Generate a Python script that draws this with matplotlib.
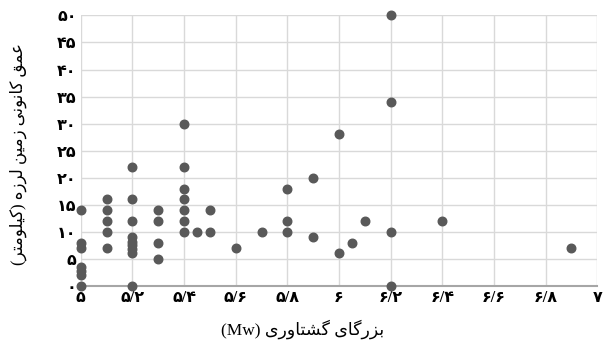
import matplotlib
matplotlib.use("Agg")
import matplotlib.pyplot as plt

# magnitude (Mw) and focal depth (km)
magnitude = [5.0, 5.0, 5.0, 5.0, 5.0, 5.0, 5.0,
             5.1, 5.1, 5.1, 5.1, 5.1,
             5.2, 5.2, 5.2, 5.2, 5.2, 5.2, 5.2, 5.2, 5.2,
             5.3, 5.3, 5.3, 5.3,
             5.4, 5.4, 5.4, 5.4, 5.4, 5.4, 5.4,
             5.45, 5.5, 5.5, 5.6, 5.7,
             5.8, 5.8, 5.8, 5.9, 5.9,
             6.0, 6.0, 6.05, 6.1,
             6.2, 6.2, 6.2, 6.2, 6.4, 6.9]
depth = [14, 8, 7, 3.5, 2.7, 2, 0,
         16, 14, 12, 10, 7,
         22, 16, 12, 9, 8.2, 7.5, 6.8, 6, 0,
         14, 12, 8, 5,
         30, 22, 18, 16, 14, 12, 10,
         10, 14, 10, 7, 10,
         18, 12, 10, 20, 9,
         28, 6, 8, 12,
         50, 34, 10, 0, 12, 7]

x_ticks = [5.0, 5.2, 5.4, 5.6, 5.8, 6.0, 6.2, 6.4, 6.6, 6.8, 7.0]
x_labels = ["۵", "۵/۲", "۵/۴", "۵/۶", "۵/۸", "۶", "۶/۲", "۶/۴", "۶/۶", "۶/۸", "۷"]
y_ticks = [0, 5, 10, 15, 20, 25, 30, 35, 40, 45, 50]
y_labels = ["۰", "۵", "۱۰", "۱۵", "۲۰", "۲۵", "۳۰", "۳۵", "۴۰", "۴۵", "۵۰"]

# arabic letter forms: isolated, final, initial, medial
FORMS = {
    "ا": ("\uFE8D", "\uFE8E", None, None),
    "ب": ("\uFE8F", "\uFE90", "\uFE91", "\uFE92"),
    "ت": ("\uFE95", "\uFE96", "\uFE97", "\uFE98"),
    "ر": ("\uFEAD", "\uFEAE", None, None),
    "ز": ("\uFEAF", "\uFEB0", None, None),
    "ش": ("\uFEB5", "\uFEB6", "\uFEB7", "\uFEB8"),
    "ع": ("\uFEC9", "\uFECA", "\uFECB", "\uFECC"),
    "ق": ("\uFED5", "\uFED6", "\uFED7", "\uFED8"),
    "ل": ("\uFEDD", "\uFEDE", "\uFEDF", "\uFEE0"),
    "م": ("\uFEE1", "\uFEE2", "\uFEE3", "\uFEE4"),
    "ن": ("\uFEE5", "\uFEE6", "\uFEE7", "\uFEE8"),
    "ه": ("\uFEE9", "\uFEEA", "\uFEEB", "\uFEEC"),
    "و": ("\uFEED", "\uFEEE", None, None),
    "ک": ("\uFB8E", "\uFB8F", "\uFB90", "\uFB91"),
    "گ": ("\uFB92", "\uFB93", "\uFB94", "\uFB95"),
    "ی": ("\uFBFC", "\uFBFD", "\uFBFE", "\uFBFF"),
}


def shape(word):
    out = []
    for i, c in enumerate(word):
        f = FORMS.get(c)
        if f is None:
            out.append(c)
            continue
        prev = word[i - 1] if i > 0 else ""
        nxt = word[i + 1] if i + 1 < len(word) else ""
        jp = prev in FORMS and FORMS[prev][2] is not None
        jn = f[2] is not None and nxt in FORMS
        if jp and jn:
            out.append(f[3])
        elif jp:
            out.append(f[1])
        elif jn:
            out.append(f[2])
        else:
            out.append(f[0])
    return "".join(reversed(out))


def rtl(text):
    return " ".join(shape(w) for w in reversed(text.split(" ")))


x_title = "(Mw) " + rtl("بزرگای گشتاوری")
y_title = "(" + shape("کیلومتر") + ") " + rtl("عمق کانونی زمین لرزه")

fonts = ["Liberation Serif", "DejaVu Sans"]

fig = plt.figure(figsize=(6.05, 3.5), dpi=100)
ax = fig.add_axes([0.1334, 0.183, 0.8539, 0.773])

ax.scatter(magnitude, depth, s=38, color="#595959", zorder=3, clip_on=False)

ax.set_xlim(5, 7)
ax.set_ylim(0, 50)
ax.set_xticks(x_ticks)
ax.set_xticklabels(x_labels, family=fonts, fontsize=11.5, fontweight="bold")
ax.set_yticks(y_ticks)
ax.set_yticklabels(y_labels, family=fonts, fontsize=11.5, fontweight="bold")
ax.tick_params(length=0, pad=3, colors="black")

ax.grid(True, color="#d9d9d9", linewidth=1)
ax.set_axisbelow(True)
for side in ["left", "top", "right"]:
    ax.spines[side].set_visible(False)
ax.spines["bottom"].set_color("#a6a6a6")
ax.spines["bottom"].set_linewidth(1.5)

fig.text(0.5, 0.058, x_title, ha="center", va="center", family=fonts, fontsize=12.5)
fig.text(0.03, 0.56, y_title, ha="center", va="center", rotation=90,
         family=fonts, fontsize=12)

fig.savefig("out.png", dpi=100)
